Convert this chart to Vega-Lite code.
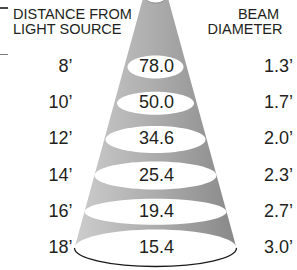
{
  "$schema": "https://vega.github.io/schema/vega-lite/v6.json",
  "width": 297,
  "height": 270,
  "padding": 0,
  "autosize": {"type": "none"},
  "config": {"view": {"stroke": null}, "text": {"font": "Liberation Sans", "color": "#231f20"}},
  "datasets": {
    "beam": [
      {"distance": 8, "distance_label": "8’", "lux": 78.0, "diameter": 1.3, "diameter_label": "1.3’"},
      {"distance": 10, "distance_label": "10’", "lux": 50.0, "diameter": 1.7, "diameter_label": "1.7’"},
      {"distance": 12, "distance_label": "12’", "lux": 34.6, "diameter": 2.0, "diameter_label": "2.0’"},
      {"distance": 14, "distance_label": "14’", "lux": 25.4, "diameter": 2.3, "diameter_label": "2.3’"},
      {"distance": 16, "distance_label": "16’", "lux": 19.4, "diameter": 2.7, "diameter_label": "2.7’"},
      {"distance": 18, "distance_label": "18’", "lux": 15.4, "diameter": 3.0, "diameter_label": "3.0’"}
    ],
    "cone": [
      {"distance": 4.298, "left": -13, "right": 13},
      {"distance": 18, "left": -81, "right": 81}
    ],
    "source": [{"distance": 4.19}],
    "rules": [
      {"distance": 4.74, "from": -155.5, "to": -147.5, "kind": "dark"},
      {"distance": 7.309, "from": -155.5, "to": -147.5, "kind": "light"}
    ]
  },
  "layer": [
    {
      "data": {"name": "cone"},
      "mark": {
        "type": "area",
        "orient": "horizontal",
        "fill": {
          "gradient": "linear", "x1": 0, "x2": 1, "y1": 0, "y2": 0,
          "stops": [
            {"offset": 0, "color": "#cdcdcd"},
            {"offset": 0.5, "color": "#acacac"},
            {"offset": 1, "color": "#888888"}
          ]
        }
      },
      "encoding": {
        "y": {"field": "distance", "type": "quantitative", "scale": {"domain": [4.298, 19.215], "range": [0, 270], "nice": false, "zero": false}, "axis": null},
        "x": {"field": "left", "type": "quantitative", "scale": {"domain": [-155.5, 141.5], "range": [0, 297], "nice": false, "zero": false}, "axis": null},
        "x2": {"field": "right"}
      }
    },
    {
      "data": {"name": "beam"},
      "mark": {"type": "point", "filled": true, "fill": "white", "strokeWidth": 0, "size": 4, "opacity": 1},
      "encoding": {
        "y": {"field": "distance", "type": "quantitative", "scale": {"domain": [4.298, 19.215], "range": [0, 270], "nice": false, "zero": false}, "axis": null},
        "x": {"datum": 0, "type": "quantitative", "scale": {"domain": [-155.5, 141.5], "range": [0, 297], "nice": false, "zero": false}, "axis": null},
        "shape": {
          "field": "distance", "type": "nominal", "legend": null,
          "scale": {
            "domain": [8, 10, 12, 14, 16, 18],
            "range": [
              "M-28,0A28,11.5,0,1,0,28,0A28,11.5,0,1,0,-28,0Z",
              "M-38.5,0A38.5,11.5,0,1,0,38.5,0A38.5,11.5,0,1,0,-38.5,0Z",
              "M-50,0A50,13.5,0,1,0,50,0A50,13.5,0,1,0,-50,0Z",
              "M-61,0A61,14,0,1,0,61,0A61,14,0,1,0,-61,0Z",
              "M-71,0A71,13,0,1,0,71,0A71,13,0,1,0,-71,0Z",
              "M-81,0A81,18.5,0,1,0,81,0A81,18.5,0,1,0,-81,0Z"
            ]
          }
        }
      }
    },
    {
      "data": {"name": "beam"},
      "transform": [{"filter": "datum.distance == 18"}],
      "mark": {"type": "point", "filled": false, "stroke": "#1a1a1a", "strokeWidth": 1.3, "size": 4, "opacity": 1, "shape": "M-81,0A81,18.5,0,0,0,81,0"},
      "encoding": {
        "y": {"field": "distance", "type": "quantitative", "scale": {"domain": [4.298, 19.215], "range": [0, 270], "nice": false, "zero": false}, "axis": null},
        "x": {"datum": 0, "type": "quantitative", "scale": {"domain": [-155.5, 141.5], "range": [0, 297], "nice": false, "zero": false}, "axis": null}
      }
    },
    {
      "data": {"name": "source"},
      "mark": {"type": "point", "filled": true, "fill": "white", "stroke": "#8a8a8a", "strokeWidth": 1, "size": 4, "opacity": 1, "shape": "M-9.5,0A9.5,5,0,1,0,9.5,0A9.5,5,0,1,0,-9.5,0Z"},
      "encoding": {
        "y": {"field": "distance", "type": "quantitative", "scale": {"domain": [4.298, 19.215], "range": [0, 270], "nice": false, "zero": false}, "axis": null},
        "x": {"datum": 0, "type": "quantitative", "scale": {"domain": [-155.5, 141.5], "range": [0, 297], "nice": false, "zero": false}, "axis": null}
      }
    },
    {
      "data": {"name": "rules"},
      "mark": {"type": "rule"},
      "encoding": {
        "y": {"field": "distance", "type": "quantitative", "scale": {"domain": [4.298, 19.215], "range": [0, 270], "nice": false, "zero": false}, "axis": null},
        "x": {"field": "from", "type": "quantitative", "scale": {"domain": [-155.5, 141.5], "range": [0, 297], "nice": false, "zero": false}, "axis": null},
        "x2": {"field": "to"},
        "color": {"field": "kind", "type": "nominal", "legend": null, "scale": {"domain": ["dark", "light"], "range": ["#1a1a1a", "#7a7a7a"]}},
        "strokeWidth": {"field": "kind", "type": "nominal", "legend": null, "scale": {"domain": ["dark", "light"], "range": [1.6, 1]}}
      }
    },
    {
      "data": {"name": "beam"},
      "mark": {"type": "text", "align": "center", "baseline": "middle", "fontSize": 18},
      "encoding": {
        "y": {"field": "distance", "type": "quantitative", "scale": {"domain": [4.298, 19.215], "range": [0, 270], "nice": false, "zero": false}, "axis": null},
        "x": {"datum": 1, "type": "quantitative", "scale": {"domain": [-155.5, 141.5], "range": [0, 297], "nice": false, "zero": false}, "axis": null},
        "text": {"field": "lux", "type": "quantitative", "format": ".1f"}
      }
    },
    {
      "data": {"name": "beam"},
      "mark": {"type": "text", "align": "right", "baseline": "middle", "fontSize": 18},
      "encoding": {
        "y": {"field": "distance", "type": "quantitative", "scale": {"domain": [4.298, 19.215], "range": [0, 270], "nice": false, "zero": false}, "axis": null},
        "x": {"datum": -83, "type": "quantitative", "scale": {"domain": [-155.5, 141.5], "range": [0, 297], "nice": false, "zero": false}, "axis": null},
        "text": {"field": "distance_label", "type": "nominal"}
      }
    },
    {
      "data": {"name": "beam"},
      "mark": {"type": "text", "align": "right", "baseline": "middle", "fontSize": 18},
      "encoding": {
        "y": {"field": "distance", "type": "quantitative", "scale": {"domain": [4.298, 19.215], "range": [0, 270], "nice": false, "zero": false}, "axis": null},
        "x": {"datum": 137.5, "type": "quantitative", "scale": {"domain": [-155.5, 141.5], "range": [0, 297], "nice": false, "zero": false}, "axis": null},
        "text": {"field": "diameter_label", "type": "nominal"}
      }
    },
    {
      "data": {"values": [{}]},
      "mark": {"type": "text", "align": "left", "baseline": "alphabetic", "fontSize": 14.5, "lineHeight": 14.5, "text": ["DISTANCE FROM", "LIGHT SOURCE"]},
      "encoding": {
        "y": {"datum": 5.362, "type": "quantitative", "scale": {"domain": [4.298, 19.215], "range": [0, 270], "nice": false, "zero": false}, "axis": null},
        "x": {"datum": -142.5, "type": "quantitative", "scale": {"domain": [-155.5, 141.5], "range": [0, 297], "nice": false, "zero": false}, "axis": null}
      }
    },
    {
      "data": {"values": [{}]},
      "mark": {"type": "text", "align": "center", "baseline": "alphabetic", "fontSize": 14.5, "text": "BEAM"},
      "encoding": {
        "y": {"datum": 5.362, "type": "quantitative", "scale": {"domain": [4.298, 19.215], "range": [0, 270], "nice": false, "zero": false}, "axis": null},
        "x": {"datum": 103, "type": "quantitative", "scale": {"domain": [-155.5, 141.5], "range": [0, 297], "nice": false, "zero": false}, "axis": null}
      }
    },
    {
      "data": {"values": [{}]},
      "mark": {"type": "text", "align": "center", "baseline": "alphabetic", "fontSize": 14.5, "text": "DIAMETER"},
      "encoding": {
        "y": {"datum": 6.163, "type": "quantitative", "scale": {"domain": [4.298, 19.215], "range": [0, 270], "nice": false, "zero": false}, "axis": null},
        "x": {"datum": 89.5, "type": "quantitative", "scale": {"domain": [-155.5, 141.5], "range": [0, 297], "nice": false, "zero": false}, "axis": null}
      }
    }
  ]
}
